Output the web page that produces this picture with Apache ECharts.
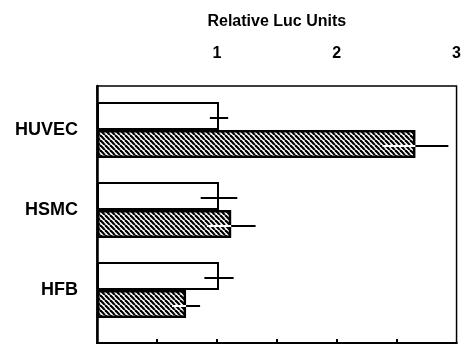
<!DOCTYPE html>
<html><head><meta charset="utf-8">
<script src="https://cdn.jsdelivr.net/npm/echarts@6/dist/echarts.min.js"></script>
<style>html,body{margin:0;padding:0;background:#fff}#c{width:464px;height:344px}</style>
</head><body><div id="c"></div>
<script>
const categories = ['HUVEC', 'HSMC', 'HFB'];
const controlValues = [1.0, 1.0, 1.0];
const controlErrors = [0.075, 0.15, 0.12];
const treatedValues = [2.61, 1.10, 0.73];
const treatedErrors = [0.27, 0.20, 0.115];
const xTickValues = [0.5, 1, 1.5, 2, 2.5];
const xLabelValues = [1, 2, 3];
const axisTitle = 'Relative Luc Units';

const FONT = '"Liberation Sans", Arial, Helvetica, sans-serif';
const BAR_W = 28;

function hatch() {
  const s = 5;
  const c = document.createElement('canvas');
  c.width = s; c.height = s;
  const g = c.getContext('2d');
  g.fillStyle = '#fff'; g.fillRect(0, 0, s, s);
  g.strokeStyle = '#000'; g.lineWidth = 2.2;
  for (let k = -1; k <= 1; k++) {
    g.beginPath(); g.moveTo(k * s, 0); g.lineTo(k * s + s, s); g.stroke();
  }
  return c;
}

const errData = [];
categories.forEach((c, i) => {
  errData.push([controlValues[i], i, controlErrors[i], 0]);
  errData.push([treatedValues[i], i, treatedErrors[i], 1]);
});

const chart = echarts.init(document.getElementById('c'), null, {renderer: 'canvas'});
const xCommon = {
  type: 'value', min: 0, max: 3, interval: 0.5, gridIndex: 0,
  splitLine: {show: false},
  axisLine: {show: true, lineStyle: {color: '#000', width: 2}},
  axisTick: {show: true, inside: true, length: 4, customValues: xTickValues, lineStyle: {color: '#000', width: 2}}
};
chart.setOption({
  animation: false,
  backgroundColor: '#fff',
  grid: [
    {left: 97, right: 1, top: 86, bottom: 1, show: true, borderColor: '#000', borderWidth: 1.5, backgroundColor: 'transparent'},
    {left: 97, right: 1, top: 90, bottom: 14}
  ],
  xAxis: [
    Object.assign({}, xCommon, {
      position: 'top',
      name: axisTitle, nameLocation: 'middle', nameGap: 56,
      nameTextStyle: {fontFamily: FONT, fontWeight: 'bold', fontSize: 16, color: '#000'},
      axisLabel: {customValues: xLabelValues, margin: 24, fontFamily: FONT, fontWeight: 'bold', fontSize: 16, color: '#000'}
    }),
    Object.assign({}, xCommon, {
      position: 'bottom',
      axisLabel: {show: false}
    }),
    {type: 'value', gridIndex: 1, min: 0, max: 3, show: false}
  ],
  yAxis: [
    {
      type: 'value', gridIndex: 0, min: 0, max: 1,
      splitLine: {show: false},
      axisLine: {show: true, lineStyle: {color: '#000', width: 2.5}},
      axisTick: {show: false}, axisLabel: {show: false}
    },
    {
      type: 'category', gridIndex: 1, inverse: true, data: categories,
      axisLine: {show: false}, axisTick: {show: false}, splitLine: {show: false},
      axisLabel: {margin: 19, fontFamily: FONT, fontWeight: 'bold', fontSize: 18, color: '#000'}
    }
  ],
  series: [
    {
      type: 'bar', xAxisIndex: 2, yAxisIndex: 1,
      data: controlValues,
      barWidth: BAR_W, barGap: '0%',
      itemStyle: {color: '#fff', borderColor: '#000', borderWidth: 2}
    },
    {
      type: 'bar', xAxisIndex: 2, yAxisIndex: 1,
      data: treatedValues,
      barWidth: BAR_W, barGap: '0%',
      itemStyle: {color: {image: hatch(), repeat: 'repeat'}, borderColor: '#000', borderWidth: 2.5}
    },
    {
      type: 'custom', xAxisIndex: 2, yAxisIndex: 1, z: 10,
      encode: {x: 0, y: 1},
      data: errData,
      renderItem: function (params, api) {
        const v = api.value(0), idx = api.value(1), e = api.value(2), kind = api.value(3);
        const c = api.coord([v, idx]);
        const y = c[1] + (kind ? 1 : -1) * BAR_W / 2 + 2;
        const l = api.coord([v - e, idx])[0];
        const r = api.coord([v + e, idx])[0];
        return {
          type: 'group',
          children: [
            {type: 'line', shape: {x1: l, y1: y, x2: c[0], y2: y}, style: {stroke: kind ? '#fff' : '#000', lineWidth: 2}},
            {type: 'line', shape: {x1: c[0], y1: y, x2: r, y2: y}, style: {stroke: '#000', lineWidth: 2}}
          ]
        };
      }
    }
  ]
});
</script>
</body></html>
